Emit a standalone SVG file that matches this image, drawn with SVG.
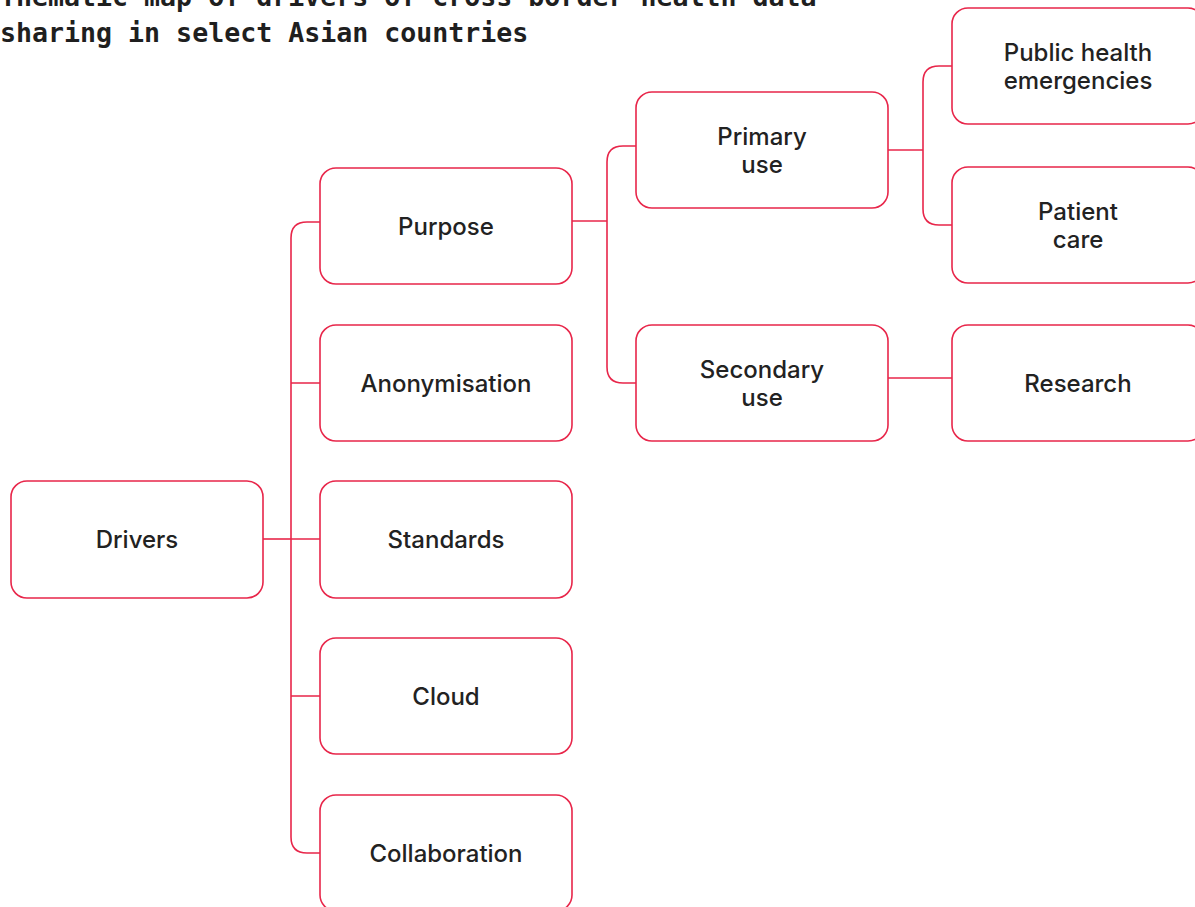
<svg xmlns="http://www.w3.org/2000/svg" width="1195" height="907" viewBox="0 0 1195 907">
<style>
.title{font-family:"DejaVu Sans Mono","Liberation Mono",monospace;font-size:26.6px;font-weight:600;fill:#1f1f1f}
.box{fill:#fff;stroke:#e8264a;stroke-width:1.6}
.lbl{font-family:Inter,"Liberation Sans",sans-serif;font-size:24px;font-weight:500;fill:#222;text-anchor:middle}
.con{fill:none;stroke:#e8264a;stroke-width:1.6}
</style>
<rect width="1195" height="907" fill="#fff"/>
<text class="title" x="0" y="6">Thematic map of drivers of cross-border health data</text>
<text class="title" x="0" y="42">sharing in select Asian countries</text>
<g id="connectors">
<path class="con" d="M263 539H291"/>
<path class="con" d="M320 222H307Q291 222 291 238V837Q291 853 307 853H320"/>
<path class="con" d="M291 383H320M291 539H320M291 696H320"/>
<path class="con" d="M572 221H607"/>
<path class="con" d="M636 146H623Q607 146 607 162V367Q607 383 623 383H636"/>
<path class="con" d="M888 150H923"/>
<path class="con" d="M952 66H939Q923 66 923 82V209Q923 225 939 225H952"/>
<path class="con" d="M888 378H952"/>
</g>
<g id="drivers"><rect class="box" x="11" y="481" width="252" height="117" rx="16"/><text class="lbl" x="137" y="548">Drivers</text></g>
<g id="purpose"><rect class="box" x="320" y="168" width="252" height="116" rx="16"/><text class="lbl" x="446" y="235">Purpose</text></g>
<g id="anonymisation"><rect class="box" x="320" y="325" width="252" height="116" rx="16"/><text class="lbl" x="446" y="392">Anonymisation</text></g>
<g id="standards"><rect class="box" x="320" y="481" width="252" height="117" rx="16"/><text class="lbl" x="446" y="548">Standards</text></g>
<g id="cloud"><rect class="box" x="320" y="638" width="252" height="116" rx="16"/><text class="lbl" x="446" y="705">Cloud</text></g>
<g id="collaboration"><rect class="box" x="320" y="795" width="252" height="116" rx="16"/><text class="lbl" x="446" y="862">Collaboration</text></g>
<g id="primary-use"><rect class="box" x="636" y="92" width="252" height="116" rx="16"/><text class="lbl" x="762" y="145">Primary</text><text class="lbl" x="762" y="173">use</text></g>
<g id="secondary-use"><rect class="box" x="636" y="325" width="252" height="116" rx="16"/><text class="lbl" x="762" y="378">Secondary</text><text class="lbl" x="762" y="406">use</text></g>
<g id="public-health"><rect class="box" x="952" y="8" width="252" height="116" rx="16"/><text class="lbl" x="1078" y="61">Public health</text><text class="lbl" x="1078" y="89">emergencies</text></g>
<g id="patient-care"><rect class="box" x="952" y="167" width="252" height="116" rx="16"/><text class="lbl" x="1078" y="220">Patient</text><text class="lbl" x="1078" y="248">care</text></g>
<g id="research"><rect class="box" x="952" y="325" width="252" height="116" rx="16"/><text class="lbl" x="1078" y="392">Research</text></g>
</svg>
